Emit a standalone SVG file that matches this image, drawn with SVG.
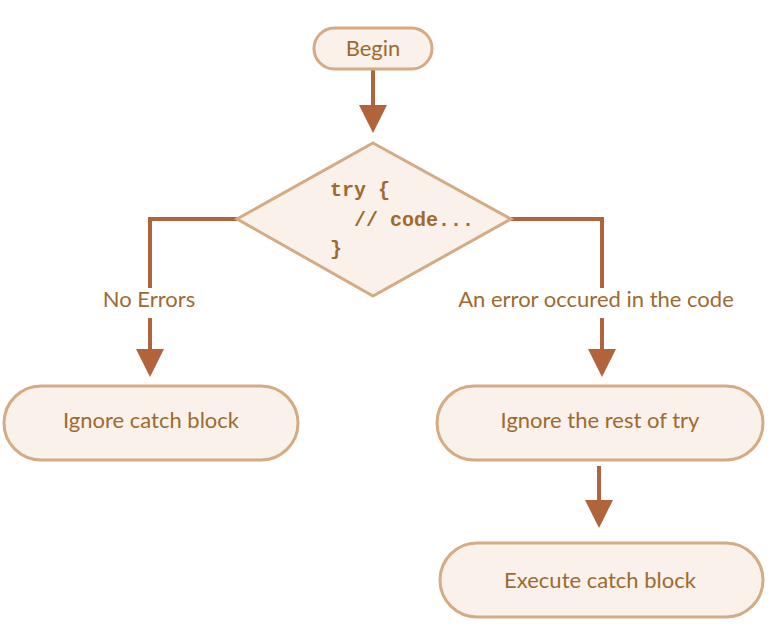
<svg xmlns="http://www.w3.org/2000/svg" width="784" height="640" viewBox="0 0 784 640">
<defs>
<style>
.node{fill:#faf1eb;stroke:#d4ab84;stroke-width:3}
.lbl{font-family:Lato,"Open Sans","Noto Sans",sans-serif;font-size:22px;fill:#9e6a2f;text-anchor:middle}
.code{font-family:"Liberation Mono","DejaVu Sans Mono",monospace;font-size:20px;font-weight:bold;fill:#9e6a2f;white-space:pre}
.conn{fill:none;stroke:#b1643b;stroke-width:4}
</style>
<marker id="ah" markerUnits="userSpaceOnUse" markerWidth="28" markerHeight="28" viewBox="0 0 28 28" refX="0" refY="14" orient="auto">
<path d="M0,0 L28,14 L0,28 Z" fill="#b1643b"/>
</marker>
</defs>
<g id="connectors">
<path class="conn" d="M373,70 V105" marker-end="url(#ah)"/>
<path class="conn" d="M237,219 H150 V288 M150,318 V349" marker-end="url(#ah)"/>
<path class="conn" d="M511,219 H602 V288 M602,318 V349" marker-end="url(#ah)"/>
<path class="conn" d="M599,466 V500" marker-end="url(#ah)"/>
<text class="lbl" x="149" y="307">No Errors</text>
<text class="lbl" x="596" y="307">An error occured in the code</text>
</g>
<g id="begin">
<rect class="node" x="314" y="28" width="118" height="41" rx="20.5"/>
<text class="lbl" x="373" y="56">Begin</text>
</g>
<g id="try">
<polygon class="node" points="373,143 511,219 373,296 237,219"/>
<text class="code" x="330" y="196">try {</text>
<text class="code" x="330" y="226">  // code...</text>
<text class="code" x="330" y="255">}</text>
</g>
<g id="ignore-catch">
<rect class="node" x="4" y="386" width="294" height="74" rx="37"/>
<text class="lbl" x="151" y="428">Ignore catch block</text>
</g>
<g id="ignore-rest">
<rect class="node" x="437" y="386" width="326" height="74" rx="37"/>
<text class="lbl" x="600" y="428">Ignore the rest of try</text>
</g>
<g id="execute-catch">
<rect class="node" x="440" y="543" width="323" height="74" rx="37"/>
<text class="lbl" x="600" y="588">Execute catch block</text>
</g>
</svg>
